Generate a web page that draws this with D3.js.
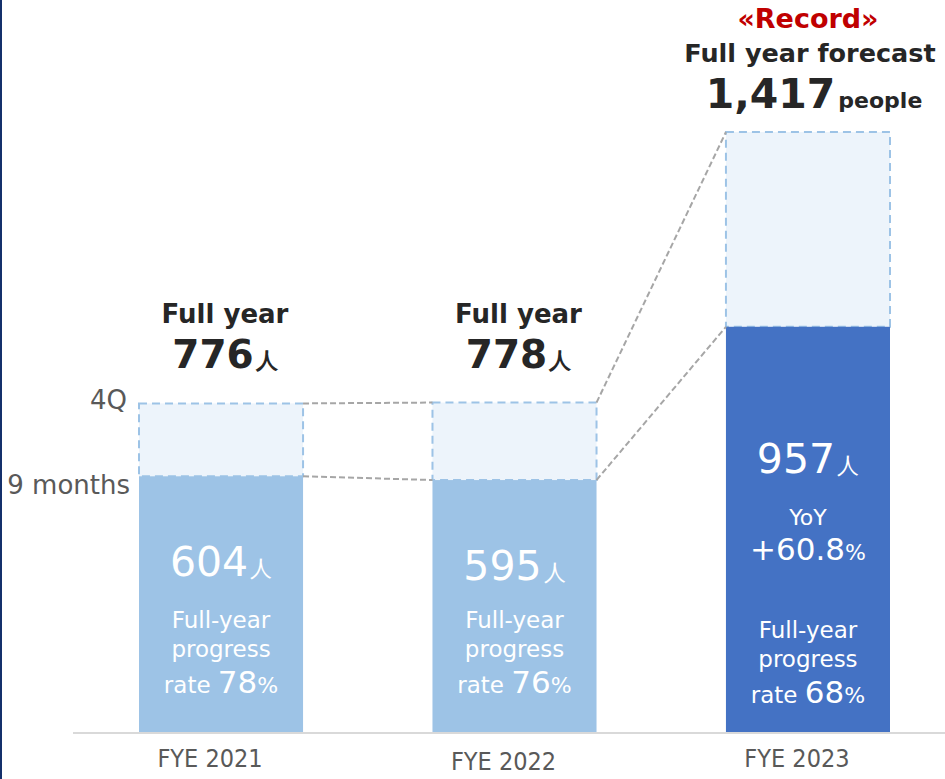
<!DOCTYPE html>
<html>
<head>
<meta charset="utf-8">
<script src="https://cdn.jsdelivr.net/npm/d3@7"></script>
<style>
  body { margin: 0; background: #fff; }
  svg { display: block; font-family: "DejaVu Sans", Verdana, sans-serif; }
</style>
</head>
<body>
<div id="chart"></div>
<script>
// Chart data
const categories = ["FYE 2021", "FYE 2022", "FYE 2023"];
const nineMonths = [604, 595, 957];
const fullYear = [776, 778, 1417];
const progressRate = [78, 76, 68];
const fullYearLabels = ["Full year", "Full year", "Full year forecast"];
const yoyText = ["", "", "+60.8"];

const width = 945, height = 779;

const svg = d3.select("#chart")
  .append("svg")
  .attr("width", width)
  .attr("height", height);

// Scales
const x = d3.scaleBand()
  .domain(categories)
  .range([139, 890])
  .paddingInner(0.441)
  .paddingOuter(0);

const y = d3.scaleLinear()
  .domain([0, 1417])
  .range([732, 132]);

const bw = x.bandwidth();
const isLast = i => i === categories.length - 1;

// Left border
svg.append("rect")
  .attr("x", 0).attr("y", 0)
  .attr("width", 2).attr("height", height)
  .attr("fill", "#14306B");

// Baseline
svg.append("line")
  .attr("x1", 73).attr("x2", width)
  .attr("y1", y(0) + 1).attr("y2", y(0) + 1)
  .attr("stroke", "#D9D9D9")
  .attr("stroke-width", 2);

// Full year (4Q) boxes
svg.selectAll("rect.full")
  .data(categories)
  .enter()
  .append("rect")
  .attr("class", "full")
  .attr("x", d => x(d))
  .attr("y", (d, i) => y(fullYear[i]))
  .attr("width", bw)
  .attr("height", (d, i) => y(nineMonths[i]) - y(fullYear[i]))
  .attr("fill", "#EDF4FB")
  .attr("stroke", "#9DC3E6")
  .attr("stroke-width", 2)
  .attr("stroke-dasharray", "8,5");

// 9 months bars
svg.selectAll("rect.nine")
  .data(categories)
  .enter()
  .append("rect")
  .attr("class", "nine")
  .attr("x", d => x(d))
  .attr("y", (d, i) => y(nineMonths[i]))
  .attr("width", bw)
  .attr("height", (d, i) => y(0) - y(nineMonths[i]))
  .attr("fill", (d, i) => isLast(i) ? "#4472C4" : "#9DC3E6");

// Connector lines between bars
const connectors = [];
for (let i = 0; i < categories.length - 1; i++) {
  connectors.push({x1: x(categories[i]) + bw, x2: x(categories[i + 1]), v1: fullYear[i], v2: fullYear[i + 1]});
  connectors.push({x1: x(categories[i]) + bw, x2: x(categories[i + 1]), v1: nineMonths[i], v2: nineMonths[i + 1]});
}
svg.selectAll("line.conn")
  .data(connectors)
  .enter()
  .append("line")
  .attr("class", "conn")
  .attr("x1", d => d.x1)
  .attr("x2", d => d.x2)
  .attr("y1", d => y(d.v1))
  .attr("y2", d => y(d.v2))
  .attr("stroke", "#A6A6A6")
  .attr("stroke-width", 2)
  .attr("stroke-dasharray", "6,3");

// Left labels
const first = categories[0];
svg.append("text")
  .attr("x", x(first) - 12)
  .attr("y", y(fullYear[0]) + 6)
  .attr("text-anchor", "end")
  .attr("font-size", 26)
  .attr("fill", "#595959")
  .text("4Q");

svg.append("text")
  .attr("x", x(first) - 9)
  .attr("y", y(nineMonths[0]) + 18)
  .attr("text-anchor", "end")
  .attr("font-size", 26)
  .attr("fill", "#595959")
  .text("9 months");

// Full year labels above bars
categories.forEach((c, i) => {
  const cx = x(c) + bw / 2;
  const top = y(fullYear[i]);
  const g = svg.append("g").attr("fill", "#262626").attr("font-weight", "bold").attr("text-anchor", "middle");
  if (isLast(i)) {
    g.append("text")
      .attr("x", cx).attr("y", top - 104)
      .attr("font-size", 27)
      .attr("fill", "#C00000")
      .text("«Record»");
    g.append("text")
      .attr("x", cx + 2).attr("y", top - 70)
      .attr("font-size", 25.5)
      .text(fullYearLabels[i]);
    const t = g.append("text")
      .attr("x", cx + 6).attr("y", top - 24);
    t.append("tspan").attr("font-size", 41).text(d3.format(",")(fullYear[i]));
    t.append("tspan").attr("font-size", 22).attr("dx", 3).text("people");
  } else {
    g.append("text")
      .attr("x", cx + 4).attr("y", top - 80)
      .attr("font-size", 26)
      .text(fullYearLabels[i]);
    const t = g.append("text")
      .attr("x", cx + 4).attr("y", top - 35);
    t.append("tspan").attr("font-size", 39).text(fullYear[i]);
    t.append("tspan").attr("font-size", 22).attr("dx", 2).text("人");
  }
});

// Labels inside bars
categories.forEach((c, i) => {
  const cx = x(c) + bw / 2;
  const g = svg.append("g").attr("fill", "#fff").attr("text-anchor", "middle");
  let base;
  if (isLast(i)) {
    const t = g.append("text").attr("x", cx).attr("y", y(nineMonths[i]) + 146);
    t.append("tspan").attr("font-size", 41).text(nineMonths[i]);
    t.append("tspan").attr("font-size", 22).attr("dx", 2).text("人");
    g.append("text").attr("x", cx).attr("y", 525).attr("font-size", 22).text("YoY");
    const t2 = g.append("text").attr("x", cx).attr("y", 560);
    t2.append("tspan").attr("font-size", 31).text(yoyText[i]);
    t2.append("tspan").attr("font-size", 22).text("%");
    base = 638;
  } else {
    const t = g.append("text").attr("x", cx).attr("y", y(nineMonths[i]) + 100);
    t.append("tspan").attr("font-size", 41).text(nineMonths[i]);
    t.append("tspan").attr("font-size", 22).attr("dx", 2).text("人");
    base = 628;
  }
  g.append("text").attr("x", cx).attr("y", base).attr("font-size", 23).text("Full-year");
  g.append("text").attr("x", cx).attr("y", base + 29).attr("font-size", 23).text("progress");
  const r = g.append("text").attr("x", cx).attr("y", base + 65);
  r.append("tspan").attr("font-size", 23).text("rate ");
  r.append("tspan").attr("font-size", 31).text(progressRate[i]);
  r.append("tspan").attr("font-size", 22).text("%");
});

// X axis labels
const xAxis = svg.append("g")
  .attr("transform", `translate(-11,${y(0) + 26})`)
  .call(d3.axisBottom(x).tickSize(0).tickPadding(0));
xAxis.select(".domain").remove();
xAxis.selectAll("text")
  .attr("font-family", "'Liberation Sans Narrow', 'DejaVu Sans Condensed', sans-serif")
  .attr("font-size", 25)
  .attr("fill", "#595959")
  .attr("dy", (d, i) => i === 1 ? 12 : 9);
</script>
</body>
</html>
